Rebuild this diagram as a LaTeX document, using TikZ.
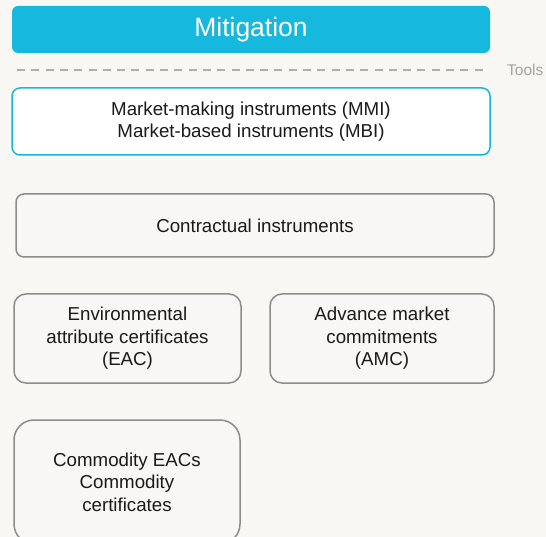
\documentclass[tikz,border=0pt]{standalone}
\usepackage{fontspec}
\setmainfont{Liberation Sans}
\definecolor{bg}{HTML}{F9F7F4}
\definecolor{boxfill}{HTML}{F8F7F5}
\definecolor{boxline}{HTML}{8C8C8A}
\definecolor{cyanm}{HTML}{16B9DD}
\definecolor{dashc}{HTML}{B0AEA6}
\definecolor{toolc}{HTML}{A5A49E}
\definecolor{txt}{HTML}{1A1A1A}
\begin{document}
\begin{tikzpicture}[x=1pt,y=-1pt,
  boxstyle/.style={draw=boxline, line width=1.5pt, fill=boxfill, rounded corners=8pt, align=center, text=txt, font=\fontsize{18.7}{22.5}\selectfont, inner sep=0pt},
]
\fill[bg] (0,0) rectangle (546,537);
\useasboundingbox (0,0) rectangle (546,537);
\node[fill=cyanm, rounded corners=6pt, minimum width=478pt, minimum height=47pt, inner sep=0pt, text=white, font=\fontsize{26.5}{29}\selectfont] (mit) at (251,29.5) {Mitigation};
\coordinate (dl) at (17,70);
\coordinate (dr) at (488,70);
\draw[dashc, line width=2pt, dash pattern=on 8pt off 6.3pt] (dl) -- (dr);
\node[text=toolc, font=\fontsize{15.5}{17}\selectfont, anchor=west, inner sep=0pt] (tools) at (507,70) {Tools};
\node[boxstyle, draw=cyanm, fill=white, minimum width=478pt, minimum height=67pt] (mmi) at (251,121.5) {Market-making instruments (MMI)\\Market-based instruments (MBI)};
\node[boxstyle, minimum width=478pt, minimum height=63pt] (ci) at (255,225.5) {Contractual instruments};
\node[boxstyle, rounded corners=12pt, minimum width=227pt, minimum height=89pt] (eac) at (127.5,338.5) {Environmental\\attribute certificates\\(EAC)};
\node[boxstyle, rounded corners=12pt, minimum width=224pt, minimum height=89pt] (amc) at (382,338.5) {Advance market\\commitments\\(AMC)};
\begin{scope}
\clip (0,0) rectangle (546,537);
\node[boxstyle, rounded corners=20pt, minimum width=226pt, minimum height=124pt] (com) at (127,482) {Commodity EACs\\Commodity\\certificates};
\end{scope}
\end{tikzpicture}
\end{document}
